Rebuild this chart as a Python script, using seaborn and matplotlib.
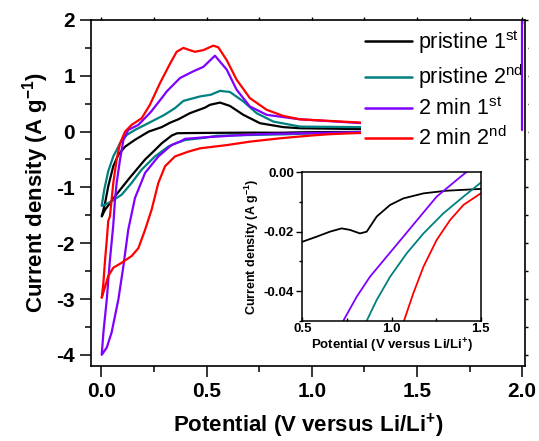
import numpy as np
import pandas as pd
import matplotlib
matplotlib.use("Agg")
import matplotlib.pyplot as plt
import seaborn as sns
from matplotlib.lines import Line2D
from matplotlib.ticker import MultipleLocator, FormatStrFormatter

# ---- data (potential V, current density A/g) ----
# each curve: cathodic sweep (2.0 -> 0) then anodic sweep (0 -> 2.0)
black_cat_v = [2.0, 1.5, 1.309, 1.179, 1.066, 0.992, 0.917, 0.861, 0.823, 0.767, 0.72, 0.655, 0.58, 0.5,
               0.40, 0.36, 0.335, 0.287, 0.255, 0.208, 0.128, 0.065, 0.018, 0.002]
black_cat_i = [-0.003, -0.0056, -0.0062, -0.0071, -0.0088, -0.011, -0.0149, -0.020, -0.0206, -0.0194, -0.0189,
               -0.020, -0.0217, -0.0234, -0.027, -0.03, -0.07, -0.21, -0.33, -0.50, -0.86, -1.16, -1.40, -1.52]
black_an_v = [0.018, 0.033, 0.057, 0.081, 0.113, 0.160, 0.225, 0.287, 0.327, 0.366, 0.421, 0.493, 0.516,
              0.564, 0.611, 0.675, 0.754, 0.865, 0.944, 1.24, 1.6, 2.0]
black_an_i = [-1.28, -0.98, -0.62, -0.415, -0.27, -0.147, 0.0, 0.08, 0.16, 0.22, 0.33, 0.43, 0.48,
              0.52, 0.46, 0.30, 0.15, 0.08, 0.06, 0.045, 0.03, 0.02]

teal_cat_v = [2.0, 1.5, 1.403, 1.291, 1.179, 1.085, 0.992, 0.917, 0.861, 0.75, 0.65, 0.548, 0.493, 0.40,
              0.36, 0.318, 0.255, 0.192, 0.144, 0.097, 0.049, 0.018, 0.002]
teal_cat_i = [0.0, -0.0035, -0.0082, -0.0138, -0.0206, -0.0273, -0.0352, -0.043, -0.05, -0.058, -0.066,
              -0.075, -0.11, -0.15, -0.20, -0.27, -0.445, -0.68, -0.92, -1.13, -1.25, -1.31, -1.33]
teal_an_v = [0.014, 0.033, 0.057, 0.089, 0.121, 0.160, 0.223, 0.30, 0.35, 0.39, 0.469, 0.52, 0.564, 0.611,
             0.675, 0.738, 0.817, 0.944, 1.24, 1.6, 2.0]
teal_an_i = [-1.04, -0.71, -0.445, -0.21, -0.06, 0.03, 0.15, 0.30, 0.42, 0.55, 0.63, 0.66, 0.73, 0.71,
             0.54, 0.33, 0.18, 0.09, 0.08, 0.05, 0.03]

purple_cat_v = [2.0, 2.0, 1.5, 1.418, 1.365, 1.253, 1.16, 1.066, 0.973, 0.879, 0.805, 0.73, 0.63, 0.548,
                0.50, 0.398, 0.374, 0.334, 0.271, 0.208, 0.160, 0.128, 0.105, 0.081, 0.049, 0.026, 0.002]
purple_cat_i = [2.5, 0.02, 0.003, 0.0, -0.0026, -0.0082, -0.0149, -0.0217, -0.0284, -0.0352, -0.0419,
                -0.05, -0.07, -0.09, -0.10, -0.13, -0.18, -0.24, -0.445, -0.74, -1.19, -1.76, -2.41,
                -3.01, -3.6, -3.87, -4.0]
purple_an_v = [0.010, 0.026, 0.041, 0.057, 0.065, 0.073, 0.089, 0.105, 0.128, 0.176, 0.235, 0.287, 0.311,
               0.374, 0.437, 0.485, 0.540, 0.596, 0.643, 0.706, 0.786, 0.944, 1.24, 1.6, 2.0]
purple_an_i = [-3.6, -3.01, -2.3, -1.67, -1.22, -0.92, -0.5, -0.15, 0.03, 0.12, 0.35, 0.6, 0.72,
               0.96, 1.08, 1.16, 1.36, 1.11, 0.75, 0.45, 0.30, 0.22, 0.15, 0.09, 0.05]

red_cat_v = [2.0, 1.5, 1.403, 1.328, 1.253, 1.179, 1.122, 1.070, 1.0, 0.944, 0.85, 0.706, 0.6, 0.469,
             0.413, 0.35, 0.303, 0.271, 0.239, 0.208, 0.176, 0.144, 0.097, 0.057, 0.033, 0.014, 0.002]
red_cat_i = [-0.002, -0.0071, -0.011, -0.0161, -0.0228, -0.0318, -0.0408, -0.05, -0.07, -0.088, -0.12,
             -0.18, -0.24, -0.30, -0.36, -0.445, -0.62, -0.92, -1.40, -1.76, -2.09, -2.23, -2.35, -2.44,
             -2.59, -2.83, -2.98]
red_an_v = [0.010, 0.018, 0.026, 0.033, 0.041, 0.057, 0.073, 0.089, 0.113, 0.144, 0.192, 0.231, 0.279,
            0.327, 0.358, 0.390, 0.420, 0.445, 0.485, 0.532, 0.556, 0.596, 0.643, 0.706, 0.786, 0.865,
            0.944, 1.24, 1.6, 2.0]
red_an_i = [-2.71, -2.29, -1.95, -1.6, -1.52, -0.92, -0.5, -0.21, 0.0, 0.12, 0.24, 0.48, 0.87,
            1.22, 1.43, 1.50, 1.46, 1.43, 1.46, 1.54, 1.51, 1.28, 0.93, 0.60, 0.39, 0.28,
            0.22, 0.16, 0.10, 0.06]

labels = [r"pristine 1$^{\mathrm{st}}$", r"pristine 2$^{\mathrm{nd}}$",
          r"2 min 1$^{\mathrm{st}}$", r"2 min 2$^{\mathrm{nd}}$"]
colors = ["#000000", "#008080", "#7F00FF", "#FF0000"]

curves = [(black_cat_v + black_an_v, black_cat_i + black_an_i),
          (teal_cat_v + teal_an_v, teal_cat_i + teal_an_i),
          (purple_cat_v + purple_an_v, purple_cat_i + purple_an_i),
          (red_cat_v + red_an_v, red_cat_i + red_an_i)]

rows = []
for lab, (vv, ii) in zip(labels, curves):
    for k, (v, i) in enumerate(zip(vv, ii)):
        rows.append({"sample": lab, "step": k, "V": v, "I": i})
df = pd.DataFrame(rows)

# ---- style ----
sns.set_style("ticks")
plt.rcParams["font.family"] = ["Liberation Sans", "DejaVu Sans"]
plt.rcParams["mathtext.fontset"] = "custom"
plt.rcParams["mathtext.rm"] = "Liberation Sans"
plt.rcParams["mathtext.bf"] = "Liberation Sans:bold"
plt.rcParams["axes.unicode_minus"] = False
plt.rcParams["axes.linewidth"] = 1.1
plt.rcParams["axes.edgecolor"] = "black"
plt.rcParams["xtick.color"] = "black"
plt.rcParams["ytick.color"] = "black"
plt.rcParams["text.color"] = "black"
plt.rcParams["axes.labelcolor"] = "black"
plt.rcParams["axes.spines.top"] = True
plt.rcParams["axes.spines.right"] = True

fig = plt.figure(figsize=(5.39, 4.41), dpi=100)
ax = fig.add_axes([0.1688, 0.1701, 0.8052, 0.7846])

palette = dict(zip(labels, colors))
sns.lineplot(data=df, x="V", y="I", hue="sample", palette=palette, sort=False,
             estimator=None, lw=1.6, legend=False, ax=ax)
# first-cycle vertical start at 2.0 V sits at the legend's edge: draw it on top
ax.plot(purple_cat_v[:2], purple_cat_i[:2], color=colors[2], lw=1.6, zorder=6)

ax.set_xlim(-0.049, 2.013)
ax.set_ylim(-4.2, 2.0)
ax.xaxis.set_major_locator(MultipleLocator(0.5))
ax.xaxis.set_minor_locator(MultipleLocator(0.25))
ax.yaxis.set_major_locator(MultipleLocator(1))
ax.yaxis.set_minor_locator(MultipleLocator(0.5))
ax.xaxis.set_major_formatter(FormatStrFormatter("%.1f"))
ax.tick_params(which="both", top=True, right=True, labeltop=False, labelright=False)
ax.tick_params(which="major", direction="out", length=8, width=1.1, labelsize=15)
ax.tick_params(which="minor", direction="out", length=4.5, width=1.1)
for t in ax.get_xticklabels() + ax.get_yticklabels():
    t.set_fontweight("bold")
# mirrored ticks on top / right are much shorter
for tk in (ax.xaxis.get_major_ticks() + ax.xaxis.get_minor_ticks()
           + ax.yaxis.get_major_ticks() + ax.yaxis.get_minor_ticks()):
    tk.tick2line.set_markersize(2.5)
    tk.tick2line.set_markeredgewidth(1.0)
ax.set_xlabel(r"Potential (V versus Li/Li$^{\mathbf{+}}$)", fontsize=16, fontweight="bold", labelpad=8)
ax.set_ylabel(r"Current density (A g$^{\mathbf{-1}}$)", fontsize=16, fontweight="bold", labelpad=4)
ax.set_frame_on(True)
for s in ax.spines.values():
    s.set_visible(True)
    s.set_color("black")
    s.set_linewidth(1.2)
    s.set_zorder(10)

handles = [Line2D([], [], color=c, lw=1.8) for c in colors]
leg = ax.legend(handles, labels, loc="upper left", bbox_to_anchor=(0.670, 0.946),
                bbox_transform=fig.transFigure, frameon=True, fancybox=False, framealpha=1,
                edgecolor="none", facecolor="white", fontsize=15.5, handlelength=2.15,
                handletextpad=0.3, labelspacing=0.3, borderpad=0.2, borderaxespad=0)
leg.set_zorder(5)

# ---- inset ----
axins = fig.add_axes([0.5609, 0.2728, 0.331, 0.3365])
sns.lineplot(data=df, x="V", y="I", hue="sample", palette=palette, sort=False,
             estimator=None, lw=1.3, legend=False, ax=axins)
axins.set_xlim(0.5, 1.5)
axins.set_ylim(-0.05, 0.0)
axins.xaxis.set_major_locator(MultipleLocator(0.5))
axins.xaxis.set_minor_locator(MultipleLocator(0.25))
axins.yaxis.set_major_locator(MultipleLocator(0.02))
axins.yaxis.set_minor_locator(MultipleLocator(0.01))
axins.xaxis.set_major_formatter(FormatStrFormatter("%.1f"))
axins.yaxis.set_major_formatter(FormatStrFormatter("%.2f"))
axins.tick_params(axis="y", which="major", direction="out", length=4, width=1.0, labelsize=9.5, pad=2)
axins.tick_params(axis="y", which="minor", direction="out", length=2, width=1.0)
axins.tick_params(axis="x", which="major", direction="in", length=3, width=1.0, labelsize=9.5, pad=2)
axins.tick_params(axis="x", which="minor", direction="in", length=2, width=1.0)
for t in axins.get_xticklabels() + axins.get_yticklabels():
    t.set_fontweight("bold")
axins.set_xlabel(r"Potential (V versus Li/Li$^{\mathbf{+}}$)", fontsize=9.5, fontweight="bold", labelpad=1)
axins.set_ylabel(r"Current density (A g$^{\mathbf{-1}}$)", fontsize=9, fontweight="bold", labelpad=2)
for s in axins.spines.values():
    s.set_visible(True)
    s.set_color("black")

fig.savefig("out.png", dpi=100)
